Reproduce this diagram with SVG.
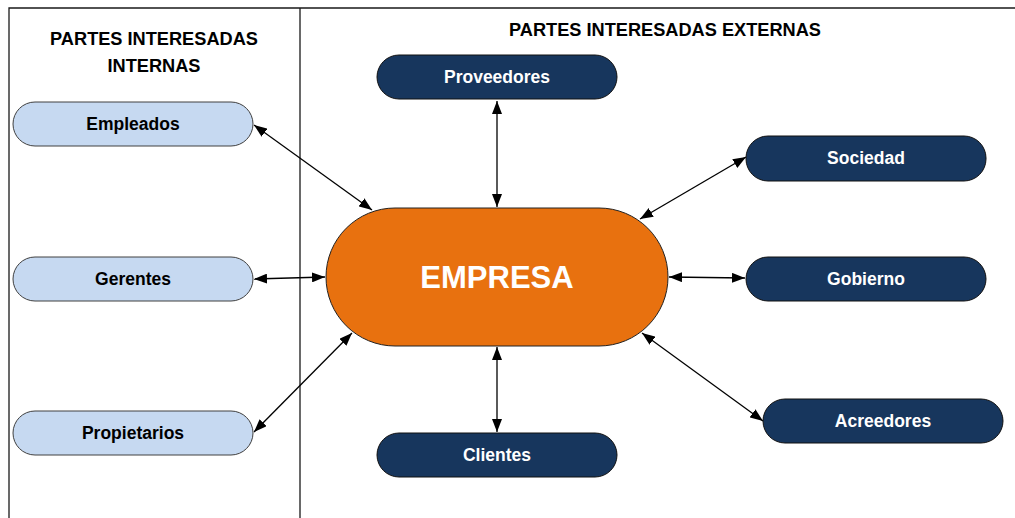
<svg xmlns="http://www.w3.org/2000/svg" width="1015" height="518" viewBox="0 0 1015 518">
<style>
  .frame{fill:none;stroke:#1a1a1a;stroke-width:1.3}
  .int rect{fill:#C6D9F1;stroke:#404040;stroke-width:1}
  .ext rect{fill:#17365D;stroke:#111;stroke-width:1}
  .int text{fill:#000;font-family:"Liberation Sans",Arial,sans-serif;font-weight:bold;font-size:17.5px;text-anchor:middle}
  .ext text{fill:#fff;font-family:"Liberation Sans",Arial,sans-serif;font-weight:bold;font-size:17.5px;text-anchor:middle}
  .title{fill:#000;font-family:"Liberation Sans",Arial,sans-serif;font-weight:bold;font-size:18.2px;text-anchor:middle}
  .conn line{stroke:#000;stroke-width:1.3;marker-start:url(#ah);marker-end:url(#ah)}
</style>
<defs>
  <marker id="ah" viewBox="0 0 13 10" refX="13" refY="5" markerWidth="13" markerHeight="10" markerUnits="userSpaceOnUse" orient="auto-start-reverse">
    <path d="M0,0 L13,5 L0,10 Z" fill="#000"/>
  </marker>
</defs>
<rect width="1015" height="518" fill="#fff"/>
<g id="frame">
  <path class="frame" d="M9,518 V8 H1015 M300,8 V518"/>
</g>
<g id="titles">
  <text class="title" x="154" y="45">PARTES INTERESADAS</text>
  <text class="title" x="154" y="72">INTERNAS</text>
  <text class="title" x="665" y="36">PARTES INTERESADAS EXTERNAS</text>
</g>
<g id="connectors" class="conn">
  <line x1="372" y1="210" x2="254" y2="125"/>
  <line x1="325" y1="277" x2="254" y2="279"/>
  <line x1="352" y1="333" x2="254" y2="432"/>
  <line x1="497" y1="207" x2="497" y2="101"/>
  <line x1="497" y1="347" x2="497" y2="432"/>
  <line x1="640" y1="219" x2="746" y2="157"/>
  <line x1="669" y1="277" x2="745" y2="278"/>
  <line x1="642" y1="333" x2="763" y2="421"/>
</g>
<g id="empresa">
  <rect x="326" y="208" width="342" height="138" rx="69" fill="#E8710F" stroke="#222" stroke-width="1"/>
  <text x="497" y="288" fill="#fff" font-family="'Liberation Sans',Arial,sans-serif" font-weight="bold" font-size="31" text-anchor="middle">EMPRESA</text>
</g>
<g id="empleados" class="int"><rect x="13" y="102" width="240" height="44" rx="22"/><text x="133" y="130">Empleados</text></g>
<g id="gerentes" class="int"><rect x="13" y="257" width="240" height="44" rx="22"/><text x="133" y="285">Gerentes</text></g>
<g id="propietarios" class="int"><rect x="13" y="411" width="240" height="44" rx="22"/><text x="133" y="439">Propietarios</text></g>
<g id="proveedores" class="ext"><rect x="377" y="55" width="240" height="44" rx="22"/><text x="497" y="83">Proveedores</text></g>
<g id="sociedad" class="ext"><rect x="746" y="136" width="240" height="45" rx="22"/><text x="866" y="164">Sociedad</text></g>
<g id="gobierno" class="ext"><rect x="746" y="257" width="240" height="44" rx="22"/><text x="866" y="285">Gobierno</text></g>
<g id="acreedores" class="ext"><rect x="763" y="399" width="240" height="44" rx="22"/><text x="883" y="427">Acreedores</text></g>
<g id="clientes" class="ext"><rect x="377" y="433" width="240" height="44" rx="22"/><text x="497" y="461">Clientes</text></g>
</svg>
